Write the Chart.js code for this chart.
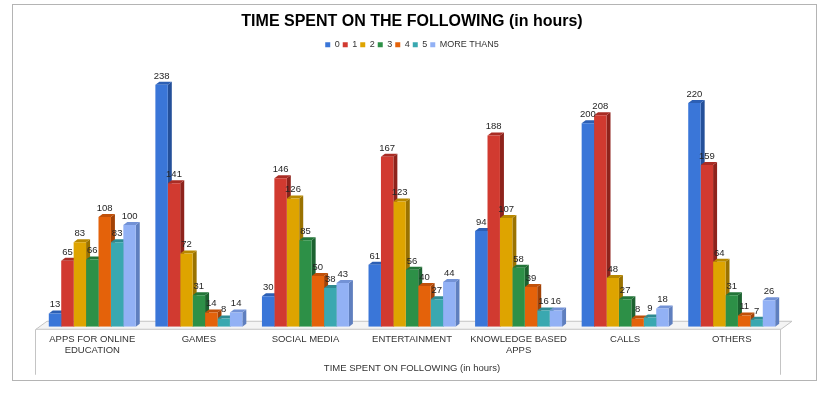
<!DOCTYPE html>
<html>
<head>
<meta charset="utf-8">
<script src="https://cdn.jsdelivr.net/npm/chart.js@4.4.1/dist/chart.umd.min.js"></script>
<style>
  html, body { margin: 0; padding: 0; background: #fff; }
  #wrap { position: relative; width: 830px; height: 399px; }
  #frame { position: absolute; left: 12px; top: 4px; width: 805px; height: 377px; border: 1px solid #b4b4b4; box-sizing: border-box; }
  canvas { position: absolute; left: 0; top: 0; }
</style>
</head>
<body>
<div id="wrap">
  <div id="frame"></div>
  <canvas id="chart" width="830" height="399"></canvas>
</div>
<script>
// kategorie a hodnoty
const categories = [
  ['APPS FOR ONLINE', 'EDUCATION'], 'GAMES', 'SOCIAL MEDIA', 'ENTERTAINMENT',
  ['KNOWLEDGE BASED', 'APPS'], 'CALLS', 'OTHERS'
];
const seriesNames = ['0', '1', '2', '3', '4', '5', 'MORE THAN5'];
const hours0 = [13, 238, 30, 61, 94, 200, 220];
const hours1 = [65, 141, 146, 167, 188, 208, 159];
const hours2 = [83, 72, 126, 123, 107, 48, 64];
const hours3 = [66, 31, 85, 56, 58, 27, 31];
const hours4 = [108, 14, 50, 40, 39, 8, 11];
const hours5 = [83, 8, 38, 27, 16, 9, 7];
const hoursMore = [100, 14, 43, 44, 16, 18, 26];

const colors = ['#3a76d8', '#d13a30', '#dea400', '#2d9047', '#e4620a', '#3aa8b0', '#92b1f5'];
const sides  = ['#24509a', '#8e231c', '#9a7200', '#1c6230', '#a24206', '#24767c', '#5f7fbf'];
const tops   = ['#2c5fb4', '#a92c24', '#b88800', '#237538', '#c15008', '#2e8a91', '#7392d6'];

const SANS = "'Liberation Sans', Arial, sans-serif";
const DX = 4, DY = 3;

// 3D podlaha a boční stěny sloupců
const bars3d = {
  id: 'bars3d',
  beforeDatasetsDraw(chart) {
    const { ctx, chartArea: a } = chart;
    ctx.save();
    // podlaha
    ctx.fillStyle = '#f4f4f4';
    ctx.strokeStyle = '#c4c4c4';
    ctx.lineWidth = 1;
    ctx.beginPath();
    ctx.moveTo(a.left - 3, a.bottom + 2.5);
    ctx.lineTo(a.right - 4, a.bottom + 2.5);
    ctx.lineTo(a.right + 7, a.bottom - 5.5);
    ctx.lineTo(a.left + 8, a.bottom - 5.5);
    ctx.closePath();
    ctx.fill();
    ctx.stroke();
    ctx.beginPath();
    ctx.moveTo(a.left - 3.5, a.bottom + 2.5);
    ctx.lineTo(a.left - 3.5, a.bottom + 48);
    ctx.moveTo(a.right - 4.5, a.bottom + 2.5);
    ctx.lineTo(a.right - 4.5, a.bottom + 48);
    ctx.stroke();
    // boky a vršky
    chart.data.datasets.forEach((ds, i) => {
      chart.getDatasetMeta(i).data.forEach(bar => {
        const l = bar.x - bar.width / 2, r = bar.x + bar.width / 2;
        const t = bar.y, b = bar.base;
        ctx.fillStyle = sides[i];
        ctx.beginPath();
        ctx.moveTo(r, b); ctx.lineTo(r + DX, b - DY); ctx.lineTo(r + DX, t - DY); ctx.lineTo(r, t);
        ctx.closePath(); ctx.fill();
        ctx.fillStyle = tops[i];
        ctx.beginPath();
        ctx.moveTo(l, t); ctx.lineTo(l + DX, t - DY); ctx.lineTo(r + DX, t - DY); ctx.lineTo(r, t);
        ctx.closePath(); ctx.fill();
      });
    });
    ctx.restore();
  },
  afterDatasetsDraw(chart) {
    const { ctx } = chart;
    ctx.save();
    ctx.font = '9.5px ' + SANS;
    ctx.fillStyle = '#262626';
    ctx.textAlign = 'center';
    ctx.textBaseline = 'bottom';
    chart.data.datasets.forEach((ds, i) => {
      chart.getDatasetMeta(i).data.forEach((bar, j) => {
        ctx.fillText(ds.data[j], bar.x, bar.y - DY - 1);
      });
    });
    ctx.restore();
  }
};

const allSeries = [hours0, hours1, hours2, hours3, hours4, hours5, hoursMore];

new Chart(document.getElementById('chart'), {
  type: 'bar',
  data: {
    labels: categories,
    datasets: allSeries.map((d, i) => ({
      label: seriesNames[i],
      data: d,
      backgroundColor: colors[i],
      borderWidth: 0,
      barPercentage: 1,
      categoryPercentage: 0.816
    }))
  },
  options: {
    responsive: false,
    animation: false,
    events: [],
    layout: { padding: { left: 39, right: 45, top: 9, bottom: 25 } },
    plugins: {
      title: {
        display: true,
        text: 'TIME SPENT ON THE FOLLOWING (in hours)',
        color: '#000',
        font: { family: SANS, size: 16, weight: 'bold' },
        padding: { top: 3, bottom: 6 }
      },
      legend: {
        display: true,
        labels: {
          boxWidth: 5,
          boxHeight: 5,
          padding: 3,
          color: '#333',
          font: { family: SANS, size: 9 }
        }
      },
      tooltip: { enabled: false }
    },
    scales: {
      y: { display: false, min: 0, max: 263 },
      x: {
        grid: { display: false, drawTicks: false },
        border: { display: false },
        ticks: {
          color: '#333',
          font: { family: SANS, size: 9.5, lineHeight: 1.15 },
          maxRotation: 0,
          autoSkip: false,
          padding: 7.5
        },
        title: {
          display: true,
          text: 'TIME SPENT ON FOLLOWING (in hours)',
          color: '#333',
          font: { family: SANS, size: 9.5 },
          padding: { top: -1, bottom: 0 }
        }
      }
    }
  },
  plugins: [bars3d]
});
</script>
</body>
</html>
